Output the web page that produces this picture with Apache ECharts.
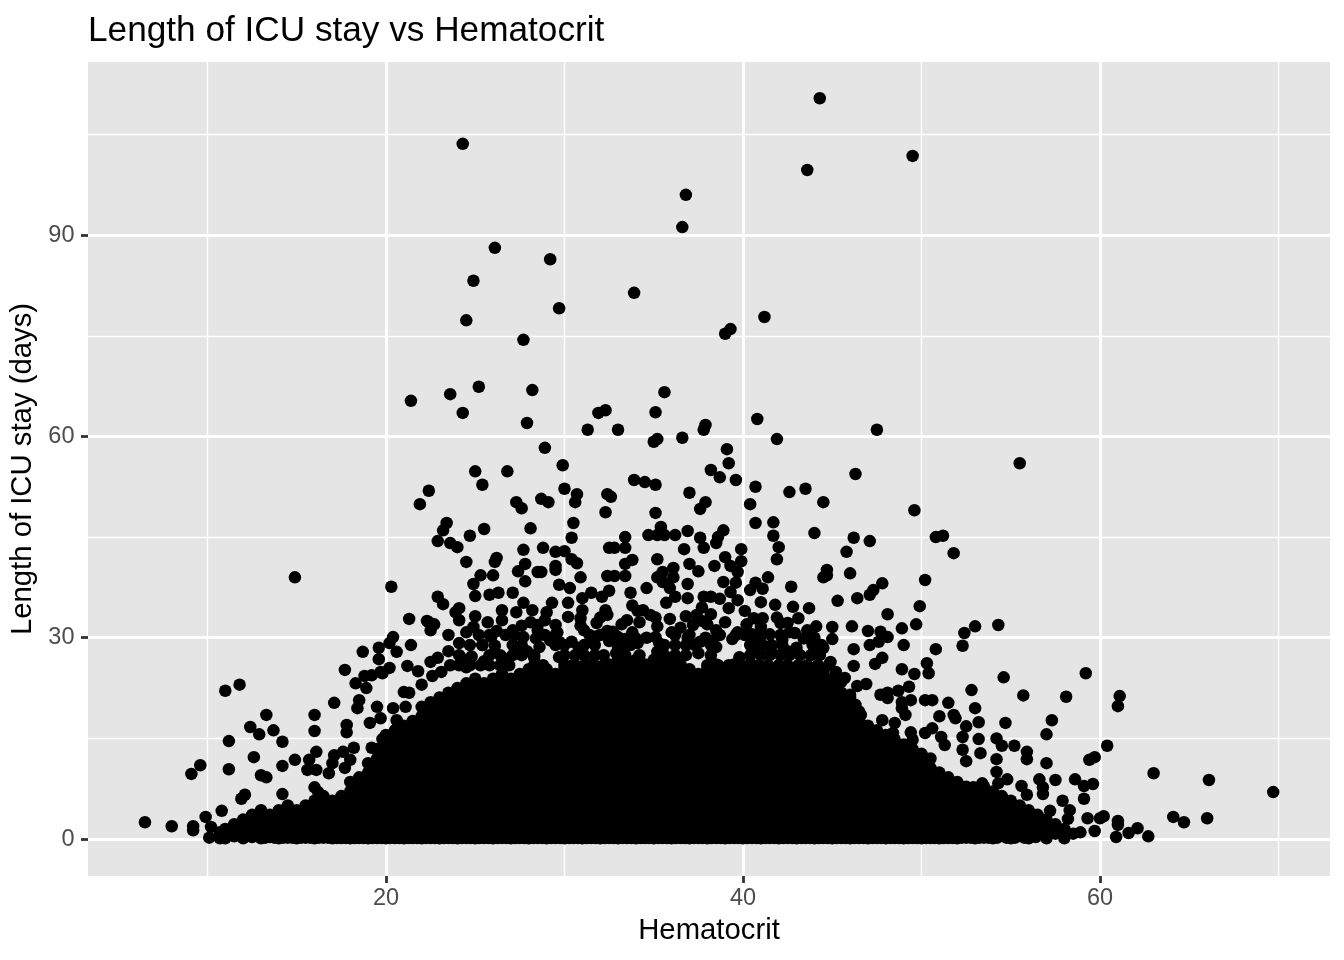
<!DOCTYPE html>
<html><head><meta charset="utf-8">
<style>html,body{margin:0;padding:0;background:#fff}#c{width:1344px;height:960px}</style>
<script src="https://cdn.jsdelivr.net/npm/echarts@6/dist/echarts.min.js"></script>
</head><body><div id="c"></div>
<script>
const chartTitle = "Length of ICU stay vs Hematocrit";
const xName = "Hematocrit";
const yName = "Length of ICU stay (days)";
const xMajor = [20, 40, 60];
const xMinor = [10, 30, 50, 70];
const yMajor = [0, 30, 60, 90];
const yMinor = [15, 45, 75, 105];

// [hematocrit, ICU days]
const outliers = [
[44.3,110.4],[24.3,103.6],[43.6,99.7],[49.5,101.8],[36.8,96],[36.6,91.2],[26.1,88.1],[29.2,86.4],[24.9,83.2],[33.9,81.4],
[29.7,79.1],[24.5,77.3],[41.2,77.8],[39.3,76],[39,75.3],[27.7,74.4],[28.2,66.9],[35.6,66.6],[25.2,67.4],[23.6,66.3],
[21.4,65.3],[24.3,63.5],[27.9,62],[31.9,63.5],[32.3,63.9],[35.1,63.6],[40.8,62.6],[37.9,61.7],[37.8,61],[31.3,61],
[33,61],[36.6,59.8],[47.5,61],[41.9,59.6],[35,59.2],[35.2,59.6],[39.1,58.1],[28.9,58.3],[39.2,56],[29.9,55.7],
[55.5,56],[25,54.8],[26.8,54.8],[38.2,55],[38.7,53.9],[39.6,53.5],[46.3,54.4],[33.9,53.5],[34.5,53.2],[35.1,52.8],
[40.7,52.5],[25.4,52.8],[22.4,51.9],[30,52.2],[30.7,51.4],[30.6,50.2],[42.6,51.7],[43.5,52.2],[32.4,51.4],[32.6,51],
[37,51.6],[27.3,50.2],[27.6,49.3],[28.7,50.7],[29.1,50.2],[21.9,49.9],[37.9,50.2],[37.6,49.2],[44.5,50.2],[40.4,49.9],
[40.7,47.1],[41.7,47.2],[41.7,45.2],[42,43.5],[41.9,41.7],[44,45.6],[49.6,49],[46.2,44.9],[47.1,44.4],[50.8,45],
[51.2,45.2],[51.8,42.6],[45.8,42.8],[44.7,40.1],[44.5,39],[44.7,39.3],[46,39.6],[50.2,38.6],[47.8,38.1],[47.3,37.1],
[47.1,36.4],[46.4,35.9],[45.3,35.5],[49.9,34.7],[48.1,33.5],[49.7,32],[48.9,31.4],[47,31],[46.1,31.7],[45,31.6],
[45,29.8],[53,31.7],[52.4,30.7],[52.3,28.8],[47.7,30.9],[48.1,30.1],[47.6,29.4],[47.1,28.9],[49,28.9],[50.8,28.3],
[46.2,28.3],[47.8,27],[47.4,26.1],[46.2,25.8],[48.9,25.3],[50.3,26.2],[50.4,24.7],[49.6,24.6],[49.3,22.7],[48.7,22.1],
[52.8,22.2],[48.1,21.8],[47.7,21.5],[46.9,23.1],[46.4,22.8],[45.7,24],[42.7,37.6],[43.7,34.4],[41.4,39],[42.8,34.6],
[41.8,34.9],[41,35.3],[40.7,38.2],[41.1,37.3],[40.4,37.1],[39.9,43.2],[39.9,41.4],[39.7,39.8],[39,42],[38.4,40.7],
[39.3,40.7],[37.5,39.9],[37,41],[36.9,45.9],[37.6,44.9],[37.8,43.4],[38.6,45],[38.9,46],[38.5,44.1],[36.7,43.2],
[36.9,38],[38.9,38.3],[39.6,38.2],[39.3,36.8],[38.2,36.1],[37.8,36.1],[38.7,35.8],[36.9,35.9],[39.7,35.6],[39.2,34.4],
[38.2,33.5],[40.1,34],[40.6,32.9],[41.1,32.9],[41.9,33],[42.1,32.2],[42.5,32.2],[42.9,30.7],[43.6,31.1],[44.1,31.7],
[43.9,29.2],[41.5,30.5],[42.2,29.7],[42.5,28],[41.6,27.9],[40.8,28.3],[40.5,30.5],[40.1,30.4],[39.7,30.8],[39.4,29.8],
[39,32.3],[38.5,31.1],[38.5,28.6],[37.2,31.9],[36.9,30],[37.5,27.7],[39.8,27.1],[44.9,26.4],[44.3,27.7],
[32.3,48.7],[35.1,48.6],[23.4,47.1],[23.2,46],[22.9,44.4],[23.6,44.1],[24,43.5],[24.7,45.2],[25.5,46.2],[28.1,46.3],
[30.5,47.1],[30.4,44.9],[27.7,43.1],[28.8,43.4],[29.5,42.8],[30,42.9],[30.4,41.7],[30.7,41.1],[26.2,41.9],[26.1,41.3],
[24.5,41.3],[27.8,41],[27.4,39.9],[28.5,39.8],[28.7,39.8],[29.5,40.7],[29.5,40.1],[26,39.3],[25.3,39.3],[24.9,38],
[27.8,38.4],[30.9,39],[29.7,37.9],[30.3,37.4],[25,36.2],[25.8,36.4],[26.3,36.7],[27.1,36.7],[22.9,36.1],[23.2,35],
[24.1,34.4],[23.9,33.8],[25,33.2],[24.1,32.6],[21.3,32.8],[22.3,32.5],[22.7,32],[22.5,31.1],[23.5,30.4],[20.4,30.1],
[20.2,29.2],[21.4,28.9],[20.6,27.9],[23.5,28],[22.9,27],[22.5,26.4],[21.2,25.8],[20.2,25.5],[19.8,24.7],[21.8,25],
[22.6,24.3],[23.1,24.9],[21,21.9],[21.3,21.8],[22,23],[24.5,25.6],[24.1,29.2],[24.5,30.8],[24.9,31.6],[25.7,32.3],
[26.5,34.1],[26.5,32.6],[27.3,33.8],[27.7,35.2],[28.2,34.1],[29,33.8],[29.3,35.2],[30.2,35.2],[31,35.9],[31.5,36.7],
[32.1,36.1],[32.5,37],[33.7,36.7],[34.6,37.4],[35.7,35.2],[36.2,36.1],[32.3,34.1],[32.4,33.4],[31,34.1],[30.2,33.1],
[30.9,32.9],[28.1,32.3],[28.5,31.9],[28.5,31.1],[29.5,31.9],[29.6,30.8],[31.8,32.2],[31.1,31.1],[32.4,31],[33.5,32.6],
[34.2,32.3],[34.1,34],[34.4,34.1],[34.8,33.4],[33,30.1],[33.8,30.8],[35.2,31.7],[36,30.8],[35.1,30.1],[34.6,30],
[34.1,29.2],[31.6,29.2],[30.4,29.4],[29.7,29.4],[28.6,28.6],[27.7,30.1],[27.1,31.1],[25.9,30.1],[25.4,28.9],[27.2,28.6],
[27.9,28],[26.5,27.1],[25.5,26.5],[28.3,27],[29.7,27.1],[32.9,27.7],[35.2,27.9],[36.1,30.7],[36.1,40.4],[35.5,39.8],
[35.2,41.7],[35.2,39],[35.5,38.3],[35.9,37.4],[36.1,39],[33.8,41.6],[33.4,41],[33.4,45],[33.4,43.4],[32.5,43.4],
[32.8,43.4],[32.4,39.2],[32.8,39.2],[33.4,39.2],[34.7,45.3],[35.4,46.5],[35.2,45.3],[35.6,45.3],[36.2,45.3],[20.3,37.6],
[14.9,39],[11,22.1],[11.8,23],[17.7,25.2],[18.7,27.9],[19.6,28.5],[19.6,26.8],[19.7,24.9],[19.2,24.4],[18.8,24.3],
[18.3,23.2],[18.9,22.5],[18.5,20.7],[17.1,20.3],[18.4,19.5],[19.5,19.7],[20.4,19.5],[21.1,19.7],[19.7,18],[19.1,17.3],
[16,18.5],[16,16.1],[17.8,17],[17.8,15.9],[13.3,18.5],[12.4,16.7],[12.9,15.6],[13.7,16.2],[14.2,14.5],[11.2,14.6],
[12.6,12.2],[9.6,11],[9.1,9.7],[11.2,10.4],[14.2,10.9],[14.9,11.8],[13,9.5],[13.3,9.2],[16.1,13],[15.7,11.8],
[15.6,10.3],[16.1,10.3],[14.2,6.7],[16,7.7],[16.2,7],[12.1,6.6],[11.9,6],[10.8,4.2],[9.9,3.3],[6.5,2.5],
[8,1.9],[9.2,1.9],[9.2,1.3],[10.2,1.8],[10.7,1],[10.1,0.2],[10.7,0.1],[18.2,13.6],[17.6,13],[17.1,12.5],
[19.2,13.6],[19.8,14.9],[17,11.3],[17.7,10.6],[16.8,9.8],[18,11.8],[20.6,17.7],[22.4,32.3],
[59.2,24.7],[54.6,24.1],[54.3,31.9],[55.7,21.4],[58.1,21.2],[61.1,21.3],[61,19.8],[53,19.5],[53.2,17.4],[52.5,16.8],
[54.7,17.3],[57.3,17.7],[57,15.6],[52.3,15.2],[51.5,20.3],[51,18.3],[51.8,18.5],[51.9,18],[50.6,20.7],[50.2,20.7],
[48.1,21],[49.4,20.7],[48.9,20.4],[48.9,19.5],[49.1,18.5],[48.5,17.3],[47.8,17.7],[49.4,15.9],[48.4,15.8],[50.6,16.5],
[50.2,15.8],[51.1,15.2],[51.3,14],[52.3,13.3],[52.5,11.6],[53.2,14.9],[53.3,12.8],[54.2,15],[54.5,13.9],[55.2,13.9],
[55.9,13],[55.9,11.9],[54.2,11.9],[57,11.3],[60.4,13.9],[59.7,12.2],[59.4,11.8],[63,9.8],[66.1,8.8],[69.7,7],
[54.2,10],[54.8,8.9],[54.3,8.3],[56.6,8.9],[57.5,8.8],[58.6,8.9],[59.1,7.9],[59.6,8.2],[59.1,6],[56.8,7.7],
[56.8,6.7],[55.6,7.9],[55.9,6.6],[53.4,8.3],[52.9,7.7],[57.9,5.7],[58.3,4.3],[57.2,4.2],[58.2,3],[59.3,3.1],
[60,3.1],[60.2,3.4],[61,2.7],[61,2.1],[61.6,0.9],[62.1,1.6],[60.9,0.3],[62.7,0.4],[64.1,3.3],[64.7,2.5],
[66,3.1],[59.7,1.2],[58.9,1],[57.9,1],[57,0.9],[56.4,0.3]
];

// Upper edge of the mass, where only gaps between dots can be seen
const edgePoints = [
[23.6,25.9],[24.1,25.9],[24.7,25.9],[25.3,25.9],[25.8,25.9],[26.4,25.9],[26.9,25.9],[28.3,25.9],[28.8,25.9],[30,25.9],[30.6,25.9],[31.1,25.9],[31.7,25.9],[32.2,25.9],[32.8,25.9],
[24.1,27.4],[25.8,27.4],[26.4,27.4],[27.1,27.4],[27.6,27.4],[28.3,27.4],[30,27.4],[30.6,27.4],[31.1,27.4],[31.7,27.4],[32.2,27.4],[33.4,27.4],
[24.7,28.9],[25.4,28.9],[27.1,28.9],[27.6,28.9],[29.5,28.9],[30,28.9],[31.1,28.9],[31.7,28.9],[33.4,28.9],
[25.2,30.4],[25.8,30.4],[26.7,30.4],[27.2,30.4],[28.9,30.4],[29.5,30.4],[31.4,30.4],[32,30.4],[32.8,30.4],
[33.7,25.9],[34.2,25.9],[34.8,25.9],[35.4,25.9],[35.9,25.9],[36.5,25.9],[38,25.9],[38.6,25.9],[39.2,25.9],[39.7,25.9],[40.3,25.9],[40.9,25.9],[41.4,25.9],[42,25.9],[42.5,25.9],[43.1,25.9],[43.6,25.9],[44.2,25.9],[44.8,25.9],
[34.2,27.4],[35.6,27.4],[36.2,27.4],[36.8,27.4],[38.2,27.4],[40.4,27.4],[41,27.4],[41.5,27.4],[42.1,27.4],[42.6,27.4],[43.2,27.4],[43.8,27.4],[44.3,27.4],
[33.7,28.9],[35.6,28.9],[36.2,28.9],[36.8,28.9],[37.3,28.9],[38.2,28.9],[40.4,28.9],[41.1,28.9],[41.6,28.9],[42.2,28.9],[43.9,28.9],[44.4,28.9],
[36.2,30.4],[37,30.4],[38.7,30.4],[39.6,30.4],[42.1,30.4],[42.6,30.8],
[45.2,24.9],[45.5,23.4],[46,21.5],[46.3,20],[46.6,18.5],[47,16.5],
[33.4,29.8],[34,29.9],[35.3,29.2],[37.9,30],[38.3,29.6],[40.9,29.5],[41,30.3],[43,28.5],[43.4,29.9],[44,30],[44.5,28.5],[37.6,29.4],[36.5,31.5],[37.7,32.5],[40.2,32],[41,31.6],[43.1,32.9],[38,32],
[24.2,27],[24.8,27.2],[26.1,28.8],[26.2,31],[27.6,31.8],[28.9,32.6],[31.8,30.2],[32.5,29.5],[33,28.5],[29.2,29.6],[28.4,29.9],[30.8,28.5],[32.7,30.9],[30.9,31.8],[32,33],[33.2,32],[33.8,34.8],[35.1,33],[35.9,32.8],[36.8,33.2],[37.4,33.4],[37.7,34.5]
];

// The flat lower edge of the mass, where stays pile up just above zero
const floorPoints = [
[13.25,0.2],[13.75,0.2],[14.25,0.2],[14.75,0.2],[15.25,0.2],[15.75,0.2],[16.25,0.2],[16.5,0.2],[16.75,0.2],[17.25,0.15],[17.5,0.15],[17.75,0.15],
[18.25,0.15],[18.5,0.15],[18.75,0.15],[19.25,0.15],[19.5,0.15],[19.75,0.15],[20.25,0.15],[20.5,0.15],[20.75,0.15],[21.25,0.15],[21.5,0.15],[21.75,0.15],
[22.25,0.15],[22.5,0.15],[22.75,0.15],[23.25,0.15],[23.5,0.15],[23.75,0.15],[24.25,0.15],[24.5,0.15],[24.75,0.15],[25.25,0.15],[25.5,0.15],[25.75,0.15],
[26.25,0.15],[26.5,0.15],[26.75,0.15],[27.25,0.15],[27.5,0.15],[27.75,0.15],[28.25,0.15],[28.5,0.15],[28.75,0.15],[29.25,0.15],[29.5,0.15],[29.75,0.15],
[30.25,0.15],[30.5,0.15],[30.75,0.15],[31.25,0.15],[31.5,0.15],[31.75,0.15],[32.25,0.15],[32.5,0.15],[32.75,0.15],[33.25,0.15],[33.5,0.15],[33.75,0.15],
[34.25,0.15],[34.5,0.15],[34.75,0.15],[35.25,0.15],[35.5,0.15],[35.75,0.15],[36.25,0.15],[36.5,0.15],[36.75,0.15],[37.25,0.15],[37.5,0.15],[37.75,0.15],
[38.25,0.15],[38.5,0.15],[38.75,0.15],[39.25,0.15],[39.5,0.15],[39.75,0.15],[40.25,0.15],[40.5,0.15],[40.75,0.15],[41.25,0.15],[41.5,0.15],[41.75,0.15],
[42.25,0.15],[42.5,0.15],[42.75,0.15],[43.25,0.15],[43.5,0.15],[43.75,0.15],[44.25,0.15],[44.5,0.15],[44.75,0.15],[45.25,0.15],[45.5,0.15],[45.75,0.15],
[46.25,0.15],[46.5,0.15],[46.75,0.15],[47.25,0.15],[47.5,0.15],[47.75,0.15],[48.25,0.15],[48.5,0.15],[48.75,0.15],[49.25,0.15],[49.5,0.15],[49.75,0.15],
[50.25,0.15],[50.5,0.15],[50.75,0.15],[51.25,0.15],[51.5,0.15],[51.75,0.15],[52.25,0.2],[52.5,0.2],[52.75,0.2],[53.25,0.2],[53.5,0.2],[53.75,0.2],
[54.25,0.2],[54.75,0.2],[55.25,0.2],[55.75,0.2],[11.5,0.4],[12.5,0.3],[13.5,0.3],[14.5,0.2],[15.5,0.2]
];

// Overplotted mass, too dense to read one by one: [hematocrit, ICU days ...] estimated per column from the black outline
const massColumns = [
[11,0.1,1.5],[11.5,0.8,2.2],[12,0.1,1.5,2.9],[12.5,0.8,2.2,3.6],[13,0.1,1.5,2.9,4.3],[13.5,0.8,2.2,3.6],[14,0.1,1.5,2.9,4.3],
[14.5,0.8,2.2,3.6,5],[15,0.1,1.5,2.9,4.3],[15.5,0.8,2.2,3.6,5],[16,0.1,1.5,2.9,4.3,5.7],[16.5,0.8,2.2,3.6,5,6.4],
[17,0.1,1.5,2.9,4.3,5.7],[17.5,0.8,2.2,3.6,5,6.4],[18,0.1,1.5,2.9,4.3,5.7,7.1,8.5],[18.5,0.8,2.2,3.6,5,6.4,7.8,9.2],
[19,0.1,1.5,2.9,4.3,5.7,7.1,8.5,9.9,11.3],[19.5,0.8,2.2,3.6,5,6.4,7.8,9.2,10.6,12,13.4],
[20,0.1,1.5,2.9,4.3,5.7,7.1,8.5,9.9,11.3,12.7,14.1,15.5],[20.5,0.8,2.2,3.6,5,6.4,7.8,9.2,10.6,12,13.4,14.8,16.2],
[21,0.1,1.5,2.9,4.3,5.7,7.1,8.5,9.9,11.3,12.7,14.1,15.5,16.9],[21.5,0.8,2.2,3.6,5,6.4,7.8,9.2,10.6,12,13.4,14.8,16.2,17.6],
[22,0.1,1.5,2.9,4.3,5.7,7.1,8.5,9.9,11.3,12.7,14.1,15.5,16.9,18.3,19.7],[22.5,0.8,2.2,3.6,5,6.4,7.8,9.2,10.6,12,13.4,14.8,16.2,17.6,19,20.4],
[23,0.1,1.5,2.9,4.3,5.7,7.1,8.5,9.9,11.3,12.7,14.1,15.5,16.9,18.3,19.7,21.1],[23.5,0.8,2.2,3.6,5,6.4,7.8,9.2,10.6,12,13.4,14.8,16.2,17.6,19,20.4,21.8],
[24,0.1,1.5,2.9,4.3,5.7,7.1,8.5,9.9,11.3,12.7,14.1,15.5,16.9,18.3,19.7,21.1,22.5],[24.5,0.8,2.2,3.6,5,6.4,7.8,9.2,10.6,12,13.4,14.8,16.2,17.6,19,20.4,21.8,23.2],
[25,0.1,1.5,2.9,4.3,5.7,7.1,8.5,9.9,11.3,12.7,14.1,15.5,16.9,18.3,19.7,21.1,22.5,23.9],[25.5,0.8,2.2,3.6,5,6.4,7.8,9.2,10.6,12,13.4,14.8,16.2,17.6,19,20.4,21.8,23.2],
[26,0.1,1.5,2.9,4.3,5.7,7.1,8.5,9.9,11.3,12.7,14.1,15.5,16.9,18.3,19.7,21.1,22.5,23.9],[26.5,0.8,2.2,3.6,5,6.4,7.8,9.2,10.6,12,13.4,14.8,16.2,17.6,19,20.4,21.8,23.2,24.6],
[27,0.1,1.5,2.9,4.3,5.7,7.1,8.5,9.9,11.3,12.7,14.1,15.5,16.9,18.3,19.7,21.1,22.5,23.9],[27.5,0.8,2.2,3.6,5,6.4,7.8,9.2,10.6,12,13.4,14.8,16.2,17.6,19,20.4,21.8,23.2,24.6],
[28,0.1,1.5,2.9,4.3,5.7,7.1,8.5,9.9,11.3,12.7,14.1,15.5,16.9,18.3,19.7,21.1,22.5,23.9,25.3],[28.5,0.8,2.2,3.6,5,6.4,7.8,9.2,10.6,12,13.4,14.8,16.2,17.6,19,20.4,21.8,23.2,24.6],
[29,0.1,1.5,2.9,4.3,5.7,7.1,8.5,9.9,11.3,12.7,14.1,15.5,16.9,18.3,19.7,21.1,22.5,23.9,25.3],[29.5,0.8,2.2,3.6,5,6.4,7.8,9.2,10.6,12,13.4,14.8,16.2,17.6,19,20.4,21.8,23.2,24.6],
[30,0.1,1.5,2.9,4.3,5.7,7.1,8.5,9.9,11.3,12.7,14.1,15.5,16.9,18.3,19.7,21.1,22.5,23.9,25.3],[30.5,0.8,2.2,3.6,5,6.4,7.8,9.2,10.6,12,13.4,14.8,16.2,17.6,19,20.4,21.8,23.2,24.6,26],
[31,0.1,1.5,2.9,4.3,5.7,7.1,8.5,9.9,11.3,12.7,14.1,15.5,16.9,18.3,19.7,21.1,22.5,23.9,25.3],[31.5,0.8,2.2,3.6,5,6.4,7.8,9.2,10.6,12,13.4,14.8,16.2,17.6,19,20.4,21.8,23.2,24.6,26],
[32,0.1,1.5,2.9,4.3,5.7,7.1,8.5,9.9,11.3,12.7,14.1,15.5,16.9,18.3,19.7,21.1,22.5,23.9,25.3],[32.5,0.8,2.2,3.6,5,6.4,7.8,9.2,10.6,12,13.4,14.8,16.2,17.6,19,20.4,21.8,23.2,24.6,26],
[33,0.1,1.5,2.9,4.3,5.7,7.1,8.5,9.9,11.3,12.7,14.1,15.5,16.9,18.3,19.7,21.1,22.5,23.9,25.3,26.7],[33.5,0.8,2.2,3.6,5,6.4,7.8,9.2,10.6,12,13.4,14.8,16.2,17.6,19,20.4,21.8,23.2,24.6,26],
[34,0.1,1.5,2.9,4.3,5.7,7.1,8.5,9.9,11.3,12.7,14.1,15.5,16.9,18.3,19.7,21.1,22.5,23.9,25.3,26.7],[34.5,0.8,2.2,3.6,5,6.4,7.8,9.2,10.6,12,13.4,14.8,16.2,17.6,19,20.4,21.8,23.2,24.6,26],
[35,0.1,1.5,2.9,4.3,5.7,7.1,8.5,9.9,11.3,12.7,14.1,15.5,16.9,18.3,19.7,21.1,22.5,23.9,25.3,26.7],[35.5,0.8,2.2,3.6,5,6.4,7.8,9.2,10.6,12,13.4,14.8,16.2,17.6,19,20.4,21.8,23.2,24.6,26],
[36,0.1,1.5,2.9,4.3,5.7,7.1,8.5,9.9,11.3,12.7,14.1,15.5,16.9,18.3,19.7,21.1,22.5,23.9,25.3,26.7],[36.5,0.8,2.2,3.6,5,6.4,7.8,9.2,10.6,12,13.4,14.8,16.2,17.6,19,20.4,21.8,23.2,24.6,26],
[37,0.1,1.5,2.9,4.3,5.7,7.1,8.5,9.9,11.3,12.7,14.1,15.5,16.9,18.3,19.7,21.1,22.5,23.9,25.3],[37.5,0.8,2.2,3.6,5,6.4,7.8,9.2,10.6,12,13.4,14.8,16.2,17.6,19,20.4,21.8,23.2,24.6],
[38,0.1,1.5,2.9,4.3,5.7,7.1,8.5,9.9,11.3,12.7,14.1,15.5,16.9,18.3,19.7,21.1,22.5,23.9,25.3],[38.5,0.8,2.2,3.6,5,6.4,7.8,9.2,10.6,12,13.4,14.8,16.2,17.6,19,20.4,21.8,23.2,24.6,26],
[39,0.1,1.5,2.9,4.3,5.7,7.1,8.5,9.9,11.3,12.7,14.1,15.5,16.9,18.3,19.7,21.1,22.5,23.9,25.3],[39.5,0.8,2.2,3.6,5,6.4,7.8,9.2,10.6,12,13.4,14.8,16.2,17.6,19,20.4,21.8,23.2,24.6,26],
[40,0.1,1.5,2.9,4.3,5.7,7.1,8.5,9.9,11.3,12.7,14.1,15.5,16.9,18.3,19.7,21.1,22.5,23.9,25.3],[40.5,0.8,2.2,3.6,5,6.4,7.8,9.2,10.6,12,13.4,14.8,16.2,17.6,19,20.4,21.8,23.2,24.6,26],
[41,0.1,1.5,2.9,4.3,5.7,7.1,8.5,9.9,11.3,12.7,14.1,15.5,16.9,18.3,19.7,21.1,22.5,23.9,25.3],[41.5,0.8,2.2,3.6,5,6.4,7.8,9.2,10.6,12,13.4,14.8,16.2,17.6,19,20.4,21.8,23.2,24.6],
[42,0.1,1.5,2.9,4.3,5.7,7.1,8.5,9.9,11.3,12.7,14.1,15.5,16.9,18.3,19.7,21.1,22.5,23.9,25.3],[42.5,0.8,2.2,3.6,5,6.4,7.8,9.2,10.6,12,13.4,14.8,16.2,17.6,19,20.4,21.8,23.2,24.6],
[43,0.1,1.5,2.9,4.3,5.7,7.1,8.5,9.9,11.3,12.7,14.1,15.5,16.9,18.3,19.7,21.1,22.5,23.9,25.3],[43.5,0.8,2.2,3.6,5,6.4,7.8,9.2,10.6,12,13.4,14.8,16.2,17.6,19,20.4,21.8,23.2,24.6],
[44,0.1,1.5,2.9,4.3,5.7,7.1,8.5,9.9,11.3,12.7,14.1,15.5,16.9,18.3,19.7,21.1,22.5,23.9,25.3],[44.5,0.8,2.2,3.6,5,6.4,7.8,9.2,10.6,12,13.4,14.8,16.2,17.6,19,20.4,21.8,23.2,24.6],
[45,0.1,1.5,2.9,4.3,5.7,7.1,8.5,9.9,11.3,12.7,14.1,15.5,16.9,18.3,19.7,21.1,22.5,23.9],[45.5,0.8,2.2,3.6,5,6.4,7.8,9.2,10.6,12,13.4,14.8,16.2,17.6,19,20.4,21.8],
[46,0.1,1.5,2.9,4.3,5.7,7.1,8.5,9.9,11.3,12.7,14.1,15.5,16.9,18.3,19.7,21.1],[46.5,0.8,2.2,3.6,5,6.4,7.8,9.2,10.6,12,13.4,14.8,16.2,17.6,19],
[47,0.1,1.5,2.9,4.3,5.7,7.1,8.5,9.9,11.3,12.7,14.1,15.5,16.9],[47.5,0.8,2.2,3.6,5,6.4,7.8,9.2,10.6,12,13.4,14.8,16.2],
[48,0.1,1.5,2.9,4.3,5.7,7.1,8.5,9.9,11.3,12.7,14.1,15.5],[48.5,0.8,2.2,3.6,5,6.4,7.8,9.2,10.6,12,13.4,14.8],
[49,0.1,1.5,2.9,4.3,5.7,7.1,8.5,9.9,11.3,12.7,14.1],[49.5,0.8,2.2,3.6,5,6.4,7.8,9.2,10.6,12,13.4,14.8],
[50,0.1,1.5,2.9,4.3,5.7,7.1,8.5,9.9,11.3,12.7],[50.5,0.8,2.2,3.6,5,6.4,7.8,9.2,10.6,12],
[51,0.1,1.5,2.9,4.3,5.7,7.1,8.5,9.9],[51.5,0.8,2.2,3.6,5,6.4,7.8,9.2],
[52,0.1,1.5,2.9,4.3,5.7,7.1,8.5],[52.5,0.8,2.2,3.6,5,6.4,7.8],
[53,0.1,1.5,2.9,4.3,5.7,7.1],[53.5,0.8,2.2,3.6,5,6.4,7.8],
[54,0.1,1.5,2.9,4.3,5.7,7.1],[54.5,0.8,2.2,3.6,5,6.4],
[55,0.1,1.5,2.9,4.3,5.7],[55.5,0.8,2.2,3.6,5],
[56,0.1,1.5,2.9,4.3],[56.5,0.8,2.2,3.6],
[57,0.1,1.5,2.9],[57.5,0.8,2.2],[58,0.1,1.5],[58.5,0.8]
];

const points = outliers.concat(edgePoints, floorPoints);
massColumns.forEach(col => { for (let i = 1; i < col.length; i++) points.push([col[0], col[i]]); });

const FONT = "Liberation Sans";
const chart = echarts.init(document.getElementById('c'), null, {renderer:'canvas'});
const xRange = {min: 3.31, max: 72.88};
const yRange = {min: -5.51, max: 115.8};
chart.setOption({
  animation:false,
  backgroundColor:'#fff',
  title:{text:chartTitle,left:88,top:14,padding:0,textStyle:{fontFamily:FONT,fontSize:35.2,fontWeight:'normal',color:'#000'}},
  grid:{left:88,top:62,width:1242,height:814,show:true,backgroundColor:'#E5E5E5',borderWidth:0,containLabel:false},
  xAxis:[
    {type:'value',...xRange,position:'bottom',
     name:xName,nameLocation:'middle',nameGap:40,nameTextStyle:{fontFamily:FONT,fontSize:29.3,color:'#000'},
     axisLine:{show:false,onZero:false},
     axisTick:{show:true,customValues:xMajor,length:7,lineStyle:{color:'#333',width:2.8}},
     axisLabel:{show:true,customValues:xMajor,margin:11,fontFamily:FONT,fontSize:23.5,color:'#4D4D4D'},
     splitLine:{show:true,customValues:xMajor,lineStyle:{color:'#fff',width:2.8}}},
    {type:'value',...xRange,position:'bottom',
     axisLine:{show:false,onZero:false},axisTick:{show:false,customValues:xMinor},axisLabel:{show:false,customValues:xMinor},
     splitLine:{show:true,customValues:xMinor,lineStyle:{color:'#fff',width:1.4}}}
  ],
  yAxis:[
    {type:'value',...yRange,position:'left',
     name:yName,nameLocation:'middle',nameGap:45,nameTextStyle:{fontFamily:FONT,fontSize:29.3,color:'#000'},
     axisLine:{show:false,onZero:false},
     axisTick:{show:true,customValues:yMajor,length:7,lineStyle:{color:'#333',width:2.8}},
     axisLabel:{show:true,customValues:yMajor,margin:13.5,fontFamily:FONT,fontSize:23.5,color:'#4D4D4D'},
     splitLine:{show:true,customValues:yMajor,lineStyle:{color:'#fff',width:2.8}}},
    {type:'value',...yRange,position:'left',
     axisLine:{show:false,onZero:false},axisTick:{show:false,customValues:yMinor},axisLabel:{show:false,customValues:yMinor},
     splitLine:{show:true,customValues:yMinor,lineStyle:{color:'#fff',width:1.4}}}
  ],
  series:[{type:'scatter',xAxisIndex:0,yAxisIndex:0,data:points,symbol:'circle',symbolSize:12.5,
    itemStyle:{color:'#000',opacity:1},emphasis:{disabled:true},silent:true,large:false,progressive:0}]
});
</script></body></html>
